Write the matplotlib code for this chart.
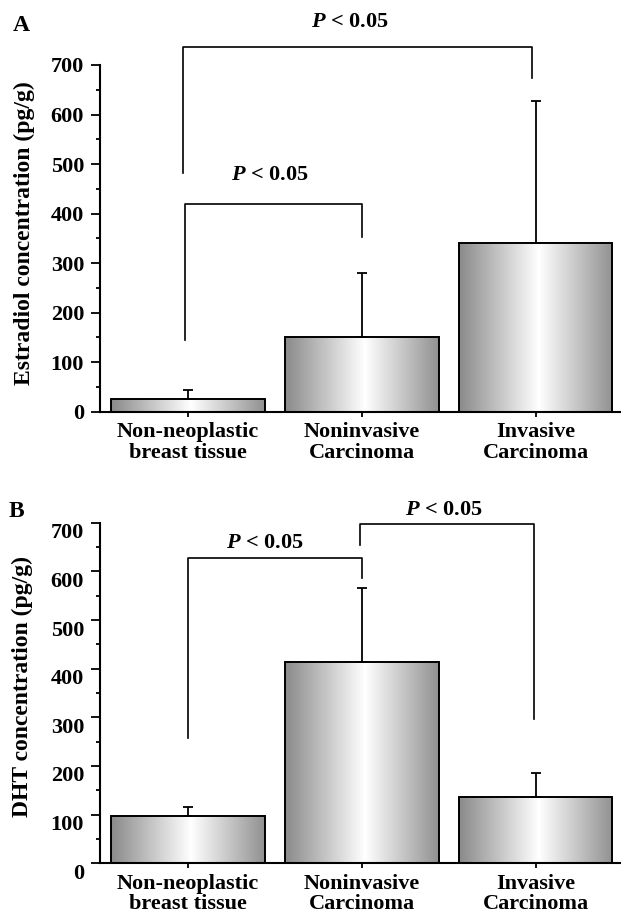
import matplotlib
matplotlib.use('Agg')
import matplotlib.pyplot as plt
import numpy as np
from matplotlib.colors import LinearSegmentedColormap
from matplotlib.transforms import ScaledTranslation

groups = ['Non-neoplastic\nbreast tissue', 'Noninvasive\nCarcinoma', 'Invasive\nCarcinoma']

estradiol_mean = [25, 150, 340]
estradiol_err = [19, 130, 288]
dht_mean = [97, 414, 136]
dht_err = [19, 151, 49]

# bracket = (x left, x right, y of top line, y left foot, y right foot)
estradiol_brackets = [(-0.03, 1.98, 736, 481, 673), (-0.02, 1.0, 419, 145, 352)]
estradiol_p_pos = [(0.93, 786), (0.47, 478)]
dht_brackets = [(0.0, 1.0, 627, 257, 586), (0.99, 1.99, 697, 654, 296)]
dht_p_pos = [(0.44, 658), (1.47, 727)]
p_text = r'$P$ < 0.05'

plt.rcParams['font.family'] = 'Liberation Serif'
plt.rcParams['font.weight'] = 'bold'
plt.rcParams['axes.labelweight'] = 'bold'
plt.rcParams['font.size'] = 16
plt.rcParams['mathtext.fontset'] = 'custom'
plt.rcParams['mathtext.rm'] = 'Liberation Serif:bold'
plt.rcParams['mathtext.it'] = 'Liberation Serif:italic:bold'

bar_cmap = LinearSegmentedColormap.from_list('barshade', [(0, '#8a8a8a'), (0.52, '#ffffff'), (1, '#919191')])


def draw_panel(ax, means, errs, brackets, p_pos, ylabel):
  x = np.arange(len(groups))
  bars = ax.bar(x, means, 0.88, fill=False, edgecolor='black', linewidth=1.4, zorder=3)
  grad = np.linspace(0, 1, 256).reshape(1, -1)
  for b in bars:
    x0, y0 = b.get_x(), b.get_y()
    ax.imshow(grad, cmap=bar_cmap, aspect='auto', zorder=2,
              extent=(x0, x0 + b.get_width(), y0, y0 + b.get_height()))
  ax.errorbar(x, means, yerr=[np.zeros(len(means)), errs], fmt='none', ecolor='black',
              elinewidth=1.3, capsize=3.5, capthick=1.3, zorder=4)

  for (xl, xr, yt, yl, yr) in brackets:
    ax.plot([xl, xl, xr, xr], [yl, yt, yt, yr], color='black', lw=1.2, clip_on=False, zorder=5)
  for (tx, ty) in p_pos:
    ax.text(tx, ty, p_text, ha='center', va='center', fontsize=16, clip_on=False)

  ax.set_xlim(-0.506, 2.489)
  ax.set_ylim(0, 700)
  ax.set_xticks(x)
  ax.set_xticklabels(groups, linespacing=1.05)
  ax.set_yticks(range(0, 701, 100))
  ax.set_yticks(range(50, 701, 100), minor=True)
  ax.tick_params(axis='y', which='major', length=6.5, width=1.3, pad=5)
  ax.tick_params(axis='y', which='minor', length=3.2, width=1.3)
  ax.tick_params(axis='x', length=3.5, width=1.3, pad=4)
  ax.spines['top'].set_visible(False)
  ax.spines['right'].set_visible(False)
  ax.spines['left'].set_linewidth(1.5)
  ax.spines['bottom'].set_linewidth(1.5)
  ax.set_ylabel(ylabel, fontsize=17, fontweight='bold')


fig = plt.figure(figsize=(6.21, 9.18), dpi=100)

ax_a = fig.add_axes([0.161, 0.5515, 0.839, 0.3777])
draw_panel(ax_a, estradiol_mean, estradiol_err, estradiol_brackets, estradiol_p_pos,
           'Estradiol concentration (pg/g)')
ax_a.yaxis.set_label_coords(-0.125, 0.515)

ax_b = fig.add_axes([0.161, 0.0596, 0.839, 0.3710])
draw_panel(ax_b, dht_mean, dht_err, dht_brackets, dht_p_pos, 'DHT concentration (pg/g)')
ax_b.yaxis.set_label_coords(-0.129, 0.518)
shift = ScaledTranslation(0, -0.08, fig.dpi_scale_trans)
for lab in ax_b.get_yticklabels():
  lab.set_transform(lab.get_transform() + shift)

fig.text(13 / 621, 1 - 31 / 918, 'A', fontsize=17, va='baseline')
fig.text(9 / 621, 1 - 517 / 918, 'B', fontsize=17, va='baseline')

plt.savefig('out.png', dpi=100)
